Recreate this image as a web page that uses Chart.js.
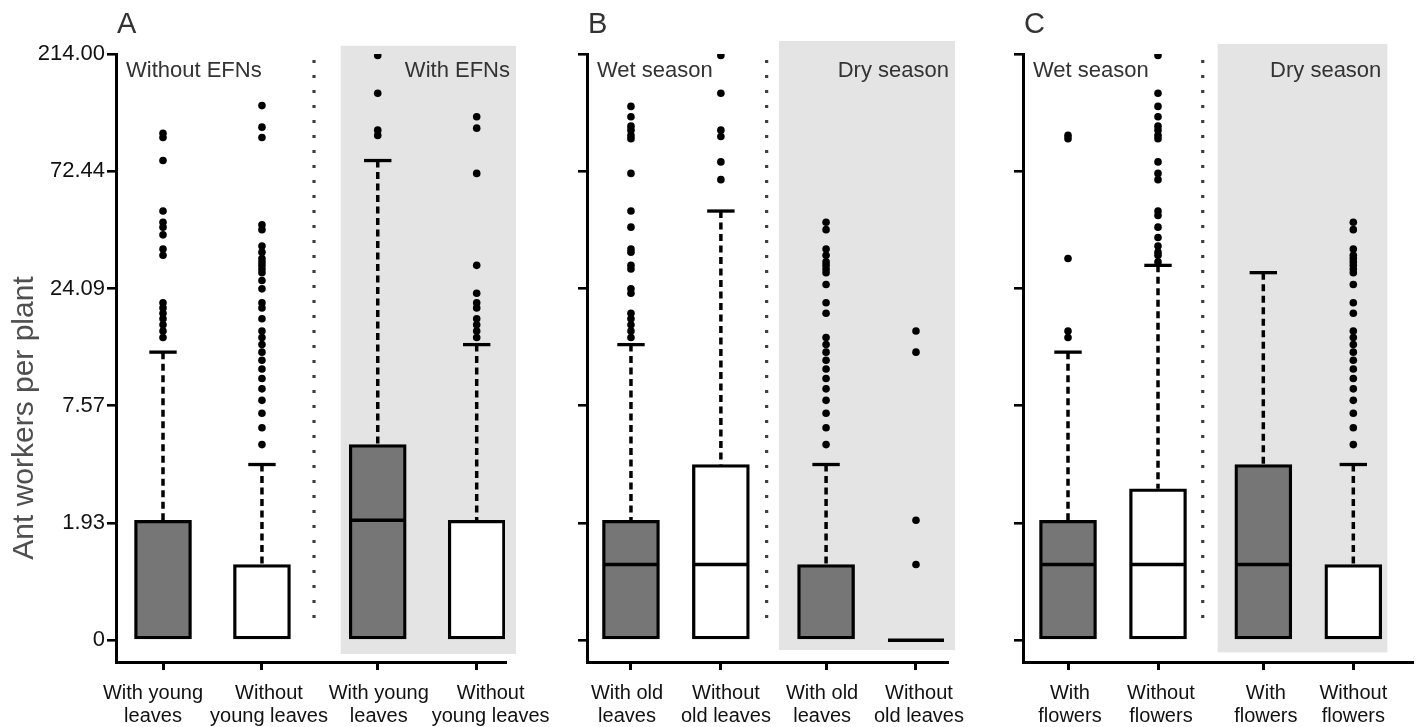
<!DOCTYPE html>
<html><head><meta charset="utf-8">
<script src="https://cdn.jsdelivr.net/npm/chart.js@4.4.1/dist/chart.umd.min.js"></script>
<style>
html,body{margin:0;padding:0;background:#fff;overflow:hidden;}
#wrap{position:relative;width:1417px;height:727px;overflow:hidden;}
#wrap canvas{position:absolute;left:0;top:0;}
</style></head><body>
<div id="wrap">
<canvas id="cA" width="1500" height="727"></canvas>
<canvas id="cB" width="1500" height="727"></canvas>
<canvas id="cC" width="1500" height="727"></canvas>
</div>
<script>
// ---------- data (ant workers per plant) ----------
const yTickValues = [0, 1.93, 7.57, 24.09, 72.44, 214.00];
const yTickText   = ['0', '1.93', '7.57', '24.09', '72.44', '214.00'];

const catsA = [['With young','leaves'],['Without','young leaves'],['With young','leaves'],['Without','young leaves']];
const catsB = [['With old','leaves'],['Without','old leaves'],['With old','leaves'],['Without','old leaves']];
const catsC = [['With','flowers'],['Without','flowers'],['With','flowers'],['Without','flowers']];

const q1A  = [0, 0, 0, 0];
const medA = [0, 0, 2, 0];
const q3A  = [2, 1, 5, 2];
const capA = [13, 4, 80, 14];
const outA = [
  [15,16,17,18,19,20,21,33,35,40,43,45,50,80,99,103],
  [5,6,7,8,9,10,11,12,13,14,15,16,18,20,21,24,26,28,29,30,31,32,34,36,42,44,99,109,133],
  [101,106,149,211],
  [15,16,17,18,20,21,23,30,71,108,120]
];

const q1B  = [0, 0, 0, 0];
const medB = [1, 1, 0, 0];
const q3B  = [2, 4, 1, 0];
const capB = [14, 50, 4, 0];
const outB = [
  [15,16,17,18,19,23,24,29,30,34,35,43,50,71,98,101,106,110,120,132],
  [67,79,100,106,149,211],
  [5,6,7,8,9,10,11,12,13,14,15,19,21,25,28,29,30,31,33,35,42,45],
  [1,2,13,16]
];

const q1C  = [0, 0, 0, 0];
const medC = [1, 1, 1, 0];
const q3C  = [2, 3, 4, 1];
const capC = [13, 30, 28, 4];
const outC = [
  [15,16,32,98,101],
  [31,33,34,36,39,43,48,50,67,71,79,98,101,106,110,120,132,149,211],
  [],
  [5,6,7,8,9,10,11,12,13,14,15,16,19,21,25,28,29,30,31,32,33,35,42,45]
];

const fillColors = ['#767676', '#ffffff', '#767676', '#ffffff'];

// ---------- helpers ----------
const tf = v => Math.log(v + 1);   // axis drawn on log(x+1)
const FONT = '"Liberation Sans", Arial, Helvetica, sans-serif';
const POS = [1, 2, 3.17, 4.17];
const CW = 1500; // canvas width (page shows 1417)

const bgPlugin = {
  id: 'bgPanel',
  beforeDatasetsDraw(chart, args, o) {
    const {ctx, scales:{x, y}} = chart;
    ctx.save();
    ctx.fillStyle = '#e3e4e3';
    const x0 = x.getPixelForValue(o.gx[0]), x1 = x.getPixelForValue(o.gx[1]);
    const y0 = y.getPixelForValue(o.gy[0]), y1 = y.getPixelForValue(o.gy[1]);
    ctx.fillRect(x0, y0, x1 - x0, y1 - y0);
    ctx.restore();
  },
  afterDraw(chart, args, o) {
    const {ctx, chartArea: ca, scales:{x}} = chart;
    ctx.save();
    ctx.fillStyle = '#333333';
    ctx.textBaseline = 'alphabetic';
    ctx.font = '29px ' + FONT;
    ctx.textAlign = 'left';
    ctx.fillText(o.letter, ca.left + 1, 33);
    ctx.font = '22px ' + FONT;
    ctx.fillText(o.leftText, ca.left + 10, 77);
    ctx.textAlign = 'right';
    ctx.fillText(o.rightText, x.getPixelForValue(o.gx[1]) - 6, 77);
    if (o.yTitle) {
      ctx.fillStyle = '#4f4f4f';
      ctx.font = '30px ' + FONT;
      ctx.translate(33, 418);
      ctx.rotate(-Math.PI / 2);
      ctx.textAlign = 'center';
      ctx.fillText(o.yTitle, 0, 0);
    }
    ctx.restore();
  }
};

function makePanel(id, cats, q1, med, q3, cap, out, L) {
  const boxes = POS.map((x, i) => ({x, y: [tf(q1[i]), tf(q3[i])]}));
  // median drawn as its own line unless it coincides with a box edge
  const meds = [];
  POS.forEach((x, i) => {
    if (q1[i] === q3[i] || (med[i] > q1[i] && med[i] < q3[i])) meds.push({x, y: tf(med[i])});
  });
  const caps = [], whisk = [];
  POS.forEach((x, i) => {
    if (cap[i] > q3[i]) {
      caps.push({x, y: tf(cap[i])});
      whisk.push({x, y: tf(cap[i])}, {x, y: tf(q3[i])}, {x, y: null});
    }
  });
  const outs = [];
  out.forEach((arr, i) => arr.forEach(v => outs.push({x: POS[i], y: tf(v)})));
  const sep = [{x: L.sep, y: 5.316}, {x: L.sep, y: 0.125}];

  new Chart(document.getElementById(id), {
    type: 'bar',
    data: {
      datasets: [
        {type: 'line', data: outs, showLine: false, pointRadius: 3.8, pointStyle: 'circle',
         pointBackgroundColor: '#000', pointBorderWidth: 0, order: 0},
        {type: 'line', data: meds, showLine: false, pointStyle: 'line', pointRadius: 28,
         pointBorderColor: '#000', pointBorderWidth: 3.5, order: 1},
        {type: 'line', data: caps, showLine: false, pointStyle: 'line', pointRadius: 13.7,
         pointBorderColor: '#000', pointBorderWidth: 3.3, order: 2},
        {type: 'bar', data: boxes, backgroundColor: fillColors, borderColor: '#000',
         borderWidth: 3.3, borderSkipped: false, barThickness: 57, order: 3},
        {type: 'line', data: whisk, spanGaps: false, borderColor: '#000', borderWidth: 3.5,
         borderDash: [7, 4.5], borderCapStyle: 'butt', pointRadius: 0, order: 4},
        {type: 'line', data: sep, borderColor: '#3f3f3f', borderWidth: 3.2,
         borderDash: [3, 12], borderCapStyle: 'butt', pointRadius: 0, order: 5}
      ]
    },
    options: {
      responsive: false, animation: false, devicePixelRatio: 1,
      layout: {padding: {left: L.padL, right: CW - L.right, top: 54, bottom: 0}},
      plugins: {
        legend: {display: false}, tooltip: {enabled: false},
        bgPanel: {gx: L.gx, gy: L.gy, letter: L.letter, leftText: L.leftText,
                  rightText: L.rightText, yTitle: L.yTitle}
      },
      scales: {
        x: {
          type: 'linear', position: 'bottom', weight: 0, min: L.xmin, max: L.xmax, offset: false,
          afterBuildTicks: s => { s.ticks = POS.map(v => ({value: v})); },
          afterFit: s => { s.height = 10; s.paddingLeft = 0; s.paddingRight = 0; },
          ticks: {callback: () => '', autoSkip: false, maxRotation: 0, minRotation: 0, padding: 0,
                  font: {family: FONT, size: 1}},
          grid: {offset: false, drawOnChartArea: false, drawTicks: true, tickLength: 8,
                 color: '#000', lineWidth: 3},
          border: {display: true, color: '#000', width: 3}
        },
        xl: {
          type: 'linear', position: 'bottom', weight: 1, min: L.xmin, max: L.xmax, offset: false,
          afterBuildTicks: s => { s.ticks = POS.map((v, i) => ({value: v + L.lblOff[i]})); },
          afterFit: s => { s.height = 55; s.paddingLeft = 0; s.paddingRight = 0; },
          ticks: {callback: (v, i) => cats[i], autoSkip: false, maxRotation: 0, minRotation: 0,
                  padding: 10, color: '#111', font: {family: FONT, size: 20, lineHeight: 1.15}},
          grid: {display: false, drawOnChartArea: false, drawTicks: false},
          border: {display: false}
        },
        y: {
          type: 'linear', min: -0.2, max: tf(214),
          afterBuildTicks: s => { s.ticks = yTickValues.map(v => ({value: tf(v)})); },
          afterFit: s => { s.width = L.yw; s.paddingTop = 0; s.paddingBottom = 0; },
          ticks: {callback: (v, i) => L.showY ? yTickText[i] : '', autoSkip: false,
                  padding: 2, color: '#111', font: {family: FONT, size: 22}},
          grid: {drawOnChartArea: false, drawTicks: true, tickLength: 9, color: '#000', lineWidth: 2.6},
          border: {display: true, color: '#000', width: 3}
        }
      }
    },
    plugins: [bgPlugin]
  });
}

makePanel('cA', catsA, q1A, medA, q3A, capA, outA, {
  padL: 16, right: 505, yw: 100, showY: true, xmin: 0.525, xmax: 4.456, sep: 2.526,
  lblOff: [-0.101, 0.071, 0.010, 0.141],
  gx: [2.796, 4.567], gy: [5.445, -0.127], letter: 'A', leftText: 'Without EFNs',
  rightText: 'With EFNs', yTitle: 'Ant workers per plant'});
makePanel('cB', catsB, q1B, medB, q3B, capB, outB, {
  padL: 567, right: 947, yw: 20, showY: false, xmin: 0.511, xmax: 4.515, sep: 2.509,
  lblOff: [-0.044, 0.056, -0.044, 0.033],
  gx: [2.646, 4.604], gy: [5.49, -0.09], letter: 'B', leftText: 'Wet season',
  rightText: 'Dry season', yTitle: null});
makePanel('cC', catsC, q1C, medC, q3C, capC, outC, {
  padL: 1003, right: 1412, yw: 20, showY: false, xmin: 0.5, xmax: 4.822, sep: 2.497,
  lblOff: [0.022, 0.033, 0.028, 0.0],
  gx: [2.663, 4.548], gy: [5.463, -0.112], letter: 'C', leftText: 'Wet season',
  rightText: 'Dry season', yTitle: null});
</script>
</body></html>
